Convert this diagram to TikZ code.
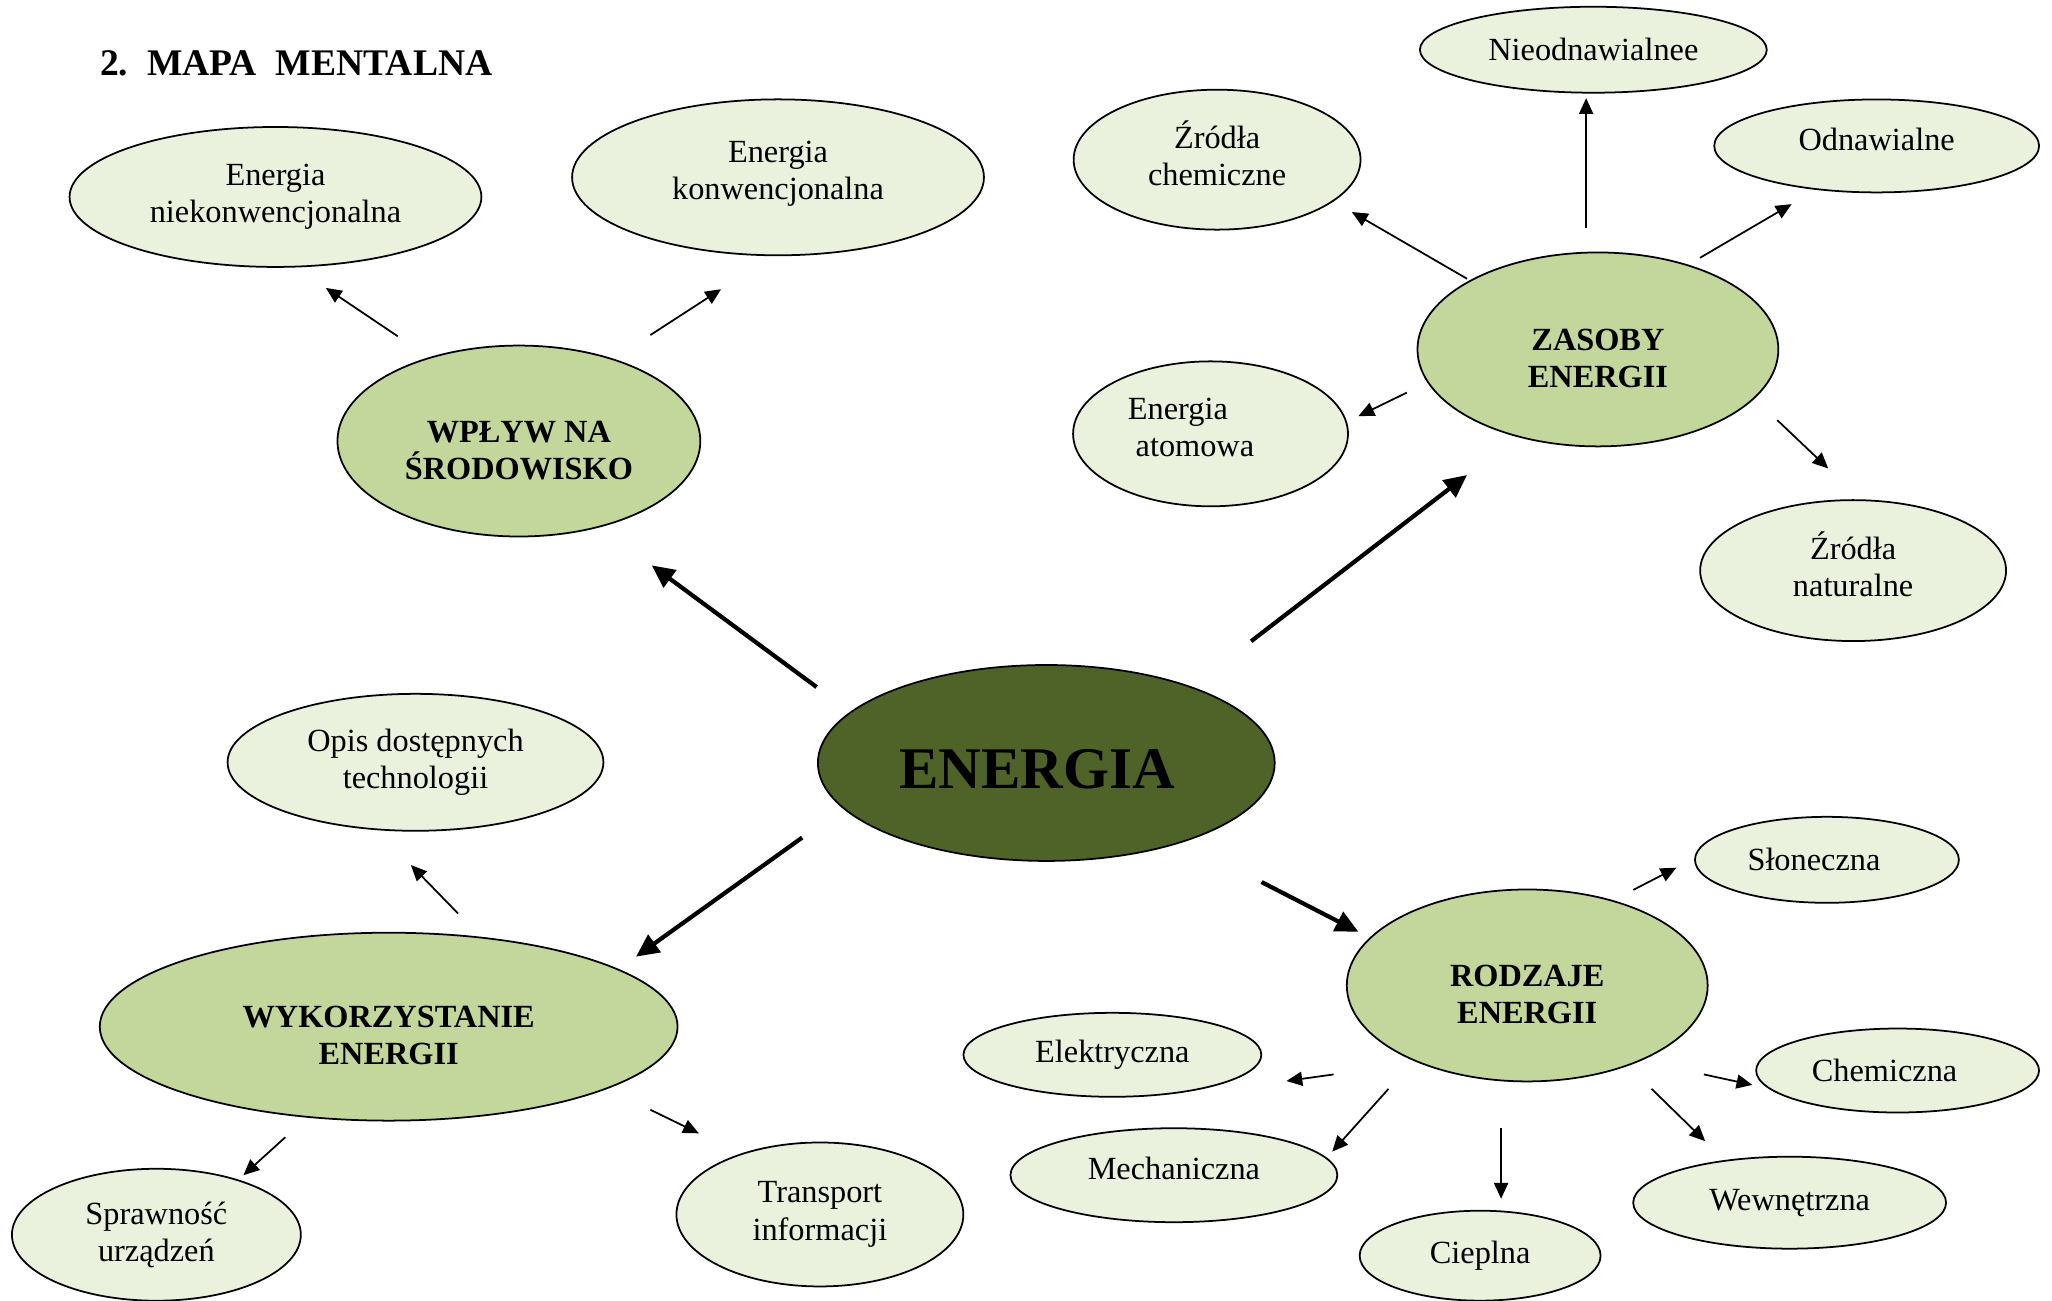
\documentclass[tikz,border=0pt]{standalone}
\usepackage{fontspec}
\setmainfont{Liberation Serif}
\usetikzlibrary{arrows.meta}
\usetikzlibrary{shapes.geometric}
\newcommand{\dropline}{\rule{0pt}{11.3pt}}
\tikzset{leaf/.style = {ellipse, draw, line width = 0.5pt, fill = mlight, inner sep = 0, align = center, font = \fontsize{9.2}{10.6}\selectfont}}
\tikzset{lift/.style = {execute at end node = \rule[-3.8pt]{0pt}{0pt}}}
\tikzset{shove/.style = {execute at end node = \kern#1}}
\tikzset{branch/.style = {leaf, fill = mmid, font = \fontsize{9.2}{10.6}\selectfont\bfseries}}
\tikzset{root/.style = {leaf, fill = mdark, font = \fontsize{16.8}{20}\selectfont\bfseries, text height = 14.4pt, text depth = 0pt, execute at begin node = \kern-5.2pt}}
\tikzset{arr/.style = {-{Triangle[length = 4.5pt, width = 4pt]}, line width = 0.5pt}}
\tikzset{bigarr/.style = {-{Triangle[length = 6.5pt, width = 6pt]}, line width = 1.2pt}}
\definecolor{mlight}{rgb}{0.918, 0.945, 0.867}
\definecolor{mmid}{rgb}{0.765, 0.839, 0.608}
\definecolor{mdark}{rgb}{0.310, 0.384, 0.157}

\begin{document}
\begin{tikzpicture}[x = 0.013087cm, y = -0.013087cm]
    \useasboundingbox (0, 0) rectangle (1568, 994);

    \node [anchor = west, inner sep = 0, font = \fontsize{10.7}{12}\selectfont\bfseries] (title) at (76, 48.4) {2.~~MAPA~~MENTALNA};

    % centre
    \node [root, minimum width = 4.57cm, minimum height = 1.96cm] (en) at (799.5, 583) {ENERGIA};

    % branches
    \node [branch, minimum width = 3.63cm, minimum height = 1.91cm] (wp) at (396.5, 337) {\dropline WPŁYW NA\\ŚRODOWISKO};
    \node [branch, minimum width = 3.61cm, minimum height = 1.94cm] (zas) at (1221, 267) {\dropline ZASOBY\\ENERGII};
    \node [branch, minimum width = 5.78cm, minimum height = 1.88cm] (wyk) at (297, 784.5) {\dropline WYKORZYSTANIE\\ENERGII};
    \node [branch, minimum width = 3.61cm, minimum height = 1.92cm] (rodz) at (1167, 753) {\dropline RODZAJE\\ENERGII};

    % leaves
    \node [leaf, minimum width = 4.12cm, minimum height = 1.40cm] (niek) at (210.5, 150.5) {Energia\\niekonwencjonalna};
    \node [leaf, lift, minimum width = 4.12cm, minimum height = 1.56cm] (konw) at (594.5, 135.5) {Energia\\konwencjonalna};
    \node [leaf, lift, minimum width = 2.87cm, minimum height = 1.40cm] (zrch) at (930, 122) {Źródła\\chemiczne};
    \node [leaf, minimum width = 3.47cm, minimum height = 0.86cm] (nieodn) at (1217.5, 38) {Nieodnawialnee};
    \node [leaf, lift, minimum width = 3.25cm, minimum height = 0.93cm] (odn) at (1434, 111.5) {Odnawialne};
    \node [leaf, lift, minimum width = 2.75cm, minimum height = 1.45cm] (atom) at (925, 331.5) {Energia\kern18.6pt\\atomowa\kern8.9pt};
    \node [leaf, lift, minimum width = 3.06cm, minimum height = 1.41cm] (zrnat) at (1416, 436) {Źródła\\naturalne};
    \node [leaf, minimum width = 3.76cm, minimum height = 1.37cm] (opis) at (317.5, 582.5) {Opis dostępnych\\technologii};
    \node [leaf, minimum width = 2.89cm, minimum height = 1.32cm] (spraw) at (119.5, 943.5) {Sprawność\\urządzeń};
    \node [leaf, minimum width = 2.87cm, minimum height = 1.44cm] (trans) at (626.5, 928) {Transport\\informacji};
    \node [leaf, shove = 7.4pt, minimum width = 2.64cm, minimum height = 0.86cm] (slon) at (1396, 657) {Słoneczna};
    \node [leaf, minimum width = 2.98cm, minimum height = 0.84cm] (elek) at (850, 806) {Elektryczna};
    \node [leaf, shove = 7.4pt, minimum width = 2.83cm, minimum height = 0.84cm] (chem) at (1450, 818) {Chemiczna};
    \node [leaf, lift, minimum width = 3.27cm, minimum height = 0.94cm] (mech) at (897, 898) {Mechaniczna};
    \node [leaf, minimum width = 3.13cm, minimum height = 0.92cm] (wewn) at (1367.5, 919) {Wewnętrzna};
    \node [leaf, minimum width = 2.41cm, minimum height = 0.90cm] (ciep) at (1131, 959.5) {Cieplna};

    % arrow ends
    \foreach \n/\x/\y in {en-wp/624/525, wp-en/498/432, en-zas/956/490, zas-en/1121/363,
                          en-wyk/613/640, wyk-en/486/731, en-rodz/964/674, rodz-en/1038/712,
                          wp-niek/304/257, niek-wp/249/220, wp-konw/497/256, konw-wp/551/221,
                          zas-zrch/1121/213, zrch-zas/1033/162, zas-nieodn/1212/174, nieodn-zas/1212/75,
                          zas-odn/1299/197, odn-zas/1369/156, zas-atom/1075/300, atom-zas/1038/318,
                          zas-zrnat/1358/321, zrnat-zas/1397/358, wyk-opis/350/698, opis-wyk/314/661,
                          wyk-spraw/218/869, spraw-wyk/186/898, wyk-trans/497/848, trans-wyk/534/866,
                          rodz-slon/1248/680, slon-rodz/1281/663, rodz-elek/1019/821, elek-rodz/983/826,
                          rodz-mech/1061/832, mech-rodz/1018/880, rodz-ciep/1147/862, ciep-rodz/1147/916,
                          rodz-wewn/1262/832, wewn-rodz/1303/872, rodz-chem/1302/821, chem-rodz/1339/829} {
      \coordinate (\n) at (\x, \y);
    }

    \foreach \a/\b in {en/wp, en/zas, en/wyk, en/rodz} {
      \draw [bigarr] (\a-\b) -- (\b-\a);
    }
    \foreach \a/\b in {wp/niek, wp/konw, zas/zrch, zas/nieodn, zas/odn, zas/atom, zas/zrnat,
                       wyk/opis, wyk/spraw, wyk/trans,
                       rodz/slon, rodz/elek, rodz/mech, rodz/ciep, rodz/wewn, rodz/chem} {
      \draw [arr] (\a-\b) -- (\b-\a);
    }
\end{tikzpicture}
\end{document}
